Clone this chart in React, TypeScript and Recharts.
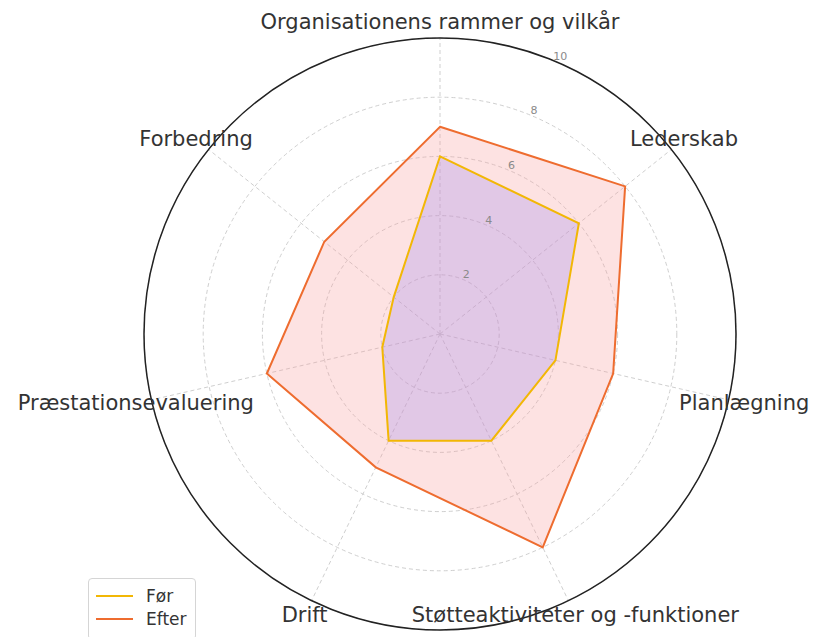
import React from "react";
import {
  RadarChart,
  Radar,
  PolarGrid,
  PolarAngleAxis,
  PolarRadiusAxis,
} from "recharts";

// axis categories, clockwise from the top
const categories = [
  "Organisationens rammer og vilkår",
  "Lederskab",
  "Planlægning",
  "Støtteaktiviteter og -funktioner",
  "Drift",
  "Præstationsevaluering",
  "Forbedring",
];

const foer = [6, 6, 4, 4, 4, 2, 2];
const efter = [7, 8, 6, 8, 5, 6, 5];

const radiusTicks = [0, 2, 4, 6, 8, 10];

const seriesNames = ["Før", "Efter"];
const seriesColors = ["#f2b705", "#ee6c2f"];

const data = categories.map((subject, i) => ({
  subject,
  foer: foer[i],
  efter: efter[i],
}));

const FONT = "DejaVu Sans, Verdana, sans-serif";

const AngleTick = ({ x, y, payload }: any) => (
  <text
    x={x}
    y={y}
    textAnchor="middle"
    dominantBaseline="central"
    fontSize={21}
    fontFamily={FONT}
    fill="#333"
  >
    {payload.value}
  </text>
);

const RadiusTick = ({ x, y, payload }: any) => {
  if (payload.value === 0) return null;
  return (
    <text x={x} y={y - 1} textAnchor="start" fontSize={11} fontFamily={FONT} fill="#8a8a8a">
      {payload.value}
    </text>
  );
};

export default function App() {
  return (
    <div style={{ position: "absolute", left: 0, top: 0, width: 813, height: 637, background: "#fff" }}>
      <RadarChart
        width={813}
        height={637}
        data={data}
        cx={440}
        cy={334}
        outerRadius={296}
        margin={{ top: 0, right: 0, bottom: 0, left: 0 }}
      >
        <PolarGrid gridType="circle" stroke="#cfcfcf" strokeDasharray="4 3" />
        <PolarAngleAxis
          dataKey="subject"
          tick={<AngleTick />}
          tickLine={false}
          tickSize={16}
          axisLineType="circle"
          axisLine={{ stroke: "#222", strokeWidth: 1.5 }}
        />
        <PolarRadiusAxis
          angle={67.5}
          domain={[0, 10]}
          ticks={radiusTicks as any}
          tickCount={6}
          axisLine={false}
          tickLine={false}
          tick={<RadiusTick />}
        />
        <Radar
          name={seriesNames[1]}
          dataKey="efter"
          stroke={seriesColors[1]}
          strokeWidth={2}
          fill="#f8a0a0"
          fillOpacity={0.3}
          isAnimationActive={false}
        />
        <Radar
          name={seriesNames[0]}
          dataKey="foer"
          stroke={seriesColors[0]}
          strokeWidth={2}
          fill="#a38bef"
          fillOpacity={0.3}
          isAnimationActive={false}
        />
      </RadarChart>
      <div
        style={{
          position: "absolute",
          left: 88,
          top: 578,
          width: 108,
          height: 62,
          border: "1px solid #d5d5d5",
          borderRadius: 4,
          background: "rgba(255,255,255,0.85)",
          fontFamily: FONT,
          fontSize: 17,
          color: "#333",
          boxSizing: "border-box",
        }}
      >
        {seriesNames.map((name, i) => (
          <div
            key={name}
            style={{ position: "absolute", left: 7, top: 6 + i * 23, display: "flex", alignItems: "center", height: 22 }}
          >
            <span style={{ display: "inline-block", width: 37, height: 2, background: seriesColors[i] }} />
            <span style={{ marginLeft: 13 }}>{name}</span>
          </div>
        ))}
      </div>
    </div>
  );
}
